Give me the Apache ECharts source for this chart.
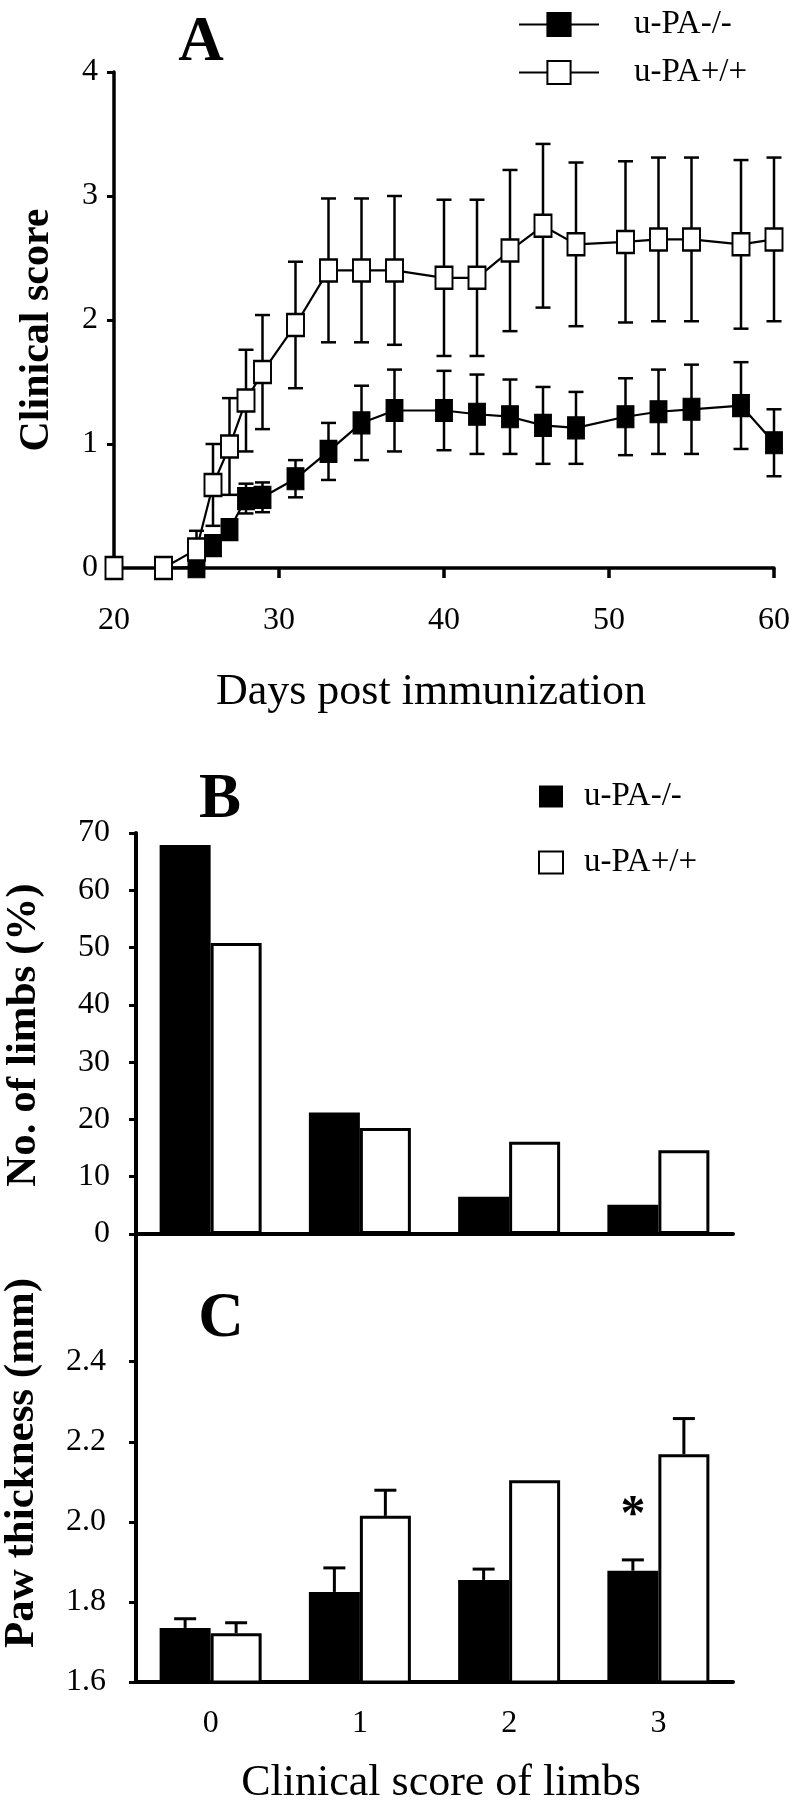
<!DOCTYPE html>
<html><head><meta charset="utf-8">
<script src="https://cdn.jsdelivr.net/npm/echarts/dist/echarts.min.js"></script>
<style>html,body{margin:0;padding:0;background:#fff}#c{width:797px;height:1800px}</style>
</head><body><div id="c"></div>
<script>
// Panel A: clinical score over time
const days = [20,23,25,26,27,28,29,31,33,35,37,40,42,44,46,48,51,53,55,58,60];
const koScore = [0,0,0.01,0.18,0.31,0.56,0.57,0.72,0.94,1.17,1.27,1.27,1.24,1.22,1.15,1.13,1.22,1.26,1.28,1.31,1.01];
const koErr   = [0,0,0,0,0,0.12,0.12,0.15,0.23,0.30,0.33,0.32,0.32,0.30,0.31,0.29,0.31,0.34,0.36,0.35,0.27];
const wtScore = [0,0,0.15,0.67,0.98,1.35,1.58,1.96,2.40,2.40,2.40,2.34,2.34,2.56,2.76,2.61,2.63,2.65,2.65,2.61,2.65];
const wtErr   = [0,0,0.15,0.33,0.39,0.41,0.46,0.51,0.58,0.58,0.60,0.63,0.63,0.65,0.66,0.66,0.65,0.66,0.66,0.68,0.66];
// Panel B: distribution of limb scores
const limbCategories = ['0','1','2','3'];
const koLimbPct = [67.9,21.2,6.5,5.1];
const wtLimbPct = [50.8,18.5,16.1,14.6];
// Panel C: paw thickness
const koPaw = [1.735,1.825,1.855,1.878];
const koPawErr = [0.023,0.06,0.027,0.027];
const wtPaw = [1.722,2.015,2.104,2.169];
const wtPawErr = [0.026,0.064,0,0.089];
const pawSignificant = [false,false,false,true];
const pawTicks = [1.6,1.8,2.0,2.2,2.4];

const FONT = '"Liberation Serif","Times New Roman",serif';
const BLACK = '#000';

function errDataA(means, errs){ return days.map((d,i)=>[d, means[i]-errs[i], means[i]+errs[i]]); }
function renderErrA(params, api){
  const x = api.value(0), lo = api.value(1), hi = api.value(2);
  if (!(hi - lo > 0)) return null;
  const a = api.coord([x, lo]), b = api.coord([x, hi]);
  const hw = 7.5, st = {stroke: BLACK, lineWidth: 2.5};
  return {type:'group', children:[
    {type:'line', shape:{x1:a[0],y1:a[1],x2:b[0],y2:b[1]}, style:st},
    {type:'line', shape:{x1:a[0]-hw,y1:a[1],x2:a[0]+hw,y2:a[1]}, style:st},
    {type:'line', shape:{x1:b[0]-hw,y1:b[1],x2:b[0]+hw,y2:b[1]}, style:st}
  ]};
}
function makeErrC(offset){
  return function(params, api){
    const c = api.value(0), m = api.value(1), e = api.value(2);
    if (!(e > 0)) return null;
    const a = api.coord([c, m]), b = api.coord([c, m + e]);
    const x = a[0] + offset, hw = 11, st = {stroke: BLACK, lineWidth: 3};
    return {type:'group', children:[
      {type:'line', shape:{x1:x,y1:a[1],x2:x,y2:b[1]}, style:st},
      {type:'line', shape:{x1:x-hw,y1:b[1],x2:x+hw,y2:b[1]}, style:st}
    ]};
  };
}

const axisLineStyle = w => ({show:true, lineStyle:{color:BLACK, width:w}});
const tickStyle = (len, w) => ({show:true, inside:false, length:len, lineStyle:{color:BLACK, width:w}});
const labelStyle = (m) => ({color:BLACK, fontFamily:FONT, fontSize:32, margin:m});

const chart = echarts.init(document.getElementById('c'), null, {renderer:'canvas'});
chart.setOption({
  animation:false,
  backgroundColor:'#fff',
  grid:[
    {left:114, top:72, width:660, height:496},
    {left:136, top:833, width:597, height:401},
    {left:136, top:1234, width:597, height:448}
  ],
  xAxis:[
    {gridIndex:0, type:'value', min:20, max:60, interval:10,
     axisLine:axisLineStyle(3.5), axisTick:tickStyle(10,3.5), axisLabel:labelStyle(37), splitLine:{show:false}},
    {gridIndex:1, type:'category', data:limbCategories,
     axisLine:axisLineStyle(4), axisTick:{show:false}, axisLabel:{show:false}},
    {gridIndex:2, type:'category', data:limbCategories,
     axisLine:axisLineStyle(4), axisTick:{show:false}, axisLabel:labelStyle(26)}
  ],
  yAxis:[
    {gridIndex:0, type:'value', min:0, max:4, interval:1,
     axisLine:axisLineStyle(3.5), axisTick:tickStyle(7,3), axisLabel:labelStyle(16), splitLine:{show:false}},
    {gridIndex:1, type:'value', min:0, max:70, interval:10,
     axisLine:axisLineStyle(4), axisTick:tickStyle(7,3), axisLabel:labelStyle(26), splitLine:{show:false}},
    {gridIndex:2, type:'value', min:1.6, max:2.719,
     axisLine:axisLineStyle(4),
     axisTick:Object.assign(tickStyle(7,3), {customValues:pawTicks}),
     axisLabel:Object.assign(labelStyle(30), {customValues:pawTicks, formatter:v=>Number(v).toFixed(1)}),
     splitLine:{show:false}}
  ],
  legend:[
    {data:['u-PA-/-','u-PA+/+'], orient:'vertical', left:513, top:3,
     itemWidth:80, itemHeight:29, itemGap:15, selectedMode:false,
     textStyle:{fontFamily:FONT, fontSize:33, color:BLACK, padding:[0,0,0,30]}},
    {data:['B u-PA-/-','B u-PA+/+'], orient:'vertical', left:533, top:775,
     itemWidth:24, itemHeight:22, itemGap:33, selectedMode:false, icon:'rect',
     formatter:n=>n.slice(2),
     textStyle:{fontFamily:FONT, fontSize:33, color:BLACK, padding:[0,0,0,16]}}
  ],
  series:[
    {type:'custom', xAxisIndex:0, yAxisIndex:0, renderItem:renderErrA,
     data:errDataA(koScore, koErr), encode:{x:0, y:[1,2]}, z:2, silent:true},
    {name:'u-PA-/-', type:'line', xAxisIndex:0, yAxisIndex:0,
     data:days.map((d,i)=>[d, koScore[i]]),
     symbol:'rect', symbolSize:[17,22], showSymbol:true,
     lineStyle:{color:BLACK, width:2.2}, itemStyle:{color:BLACK, borderColor:BLACK, borderWidth:1}, z:3},
    {type:'custom', xAxisIndex:0, yAxisIndex:0, renderItem:renderErrA,
     data:errDataA(wtScore, wtErr), encode:{x:0, y:[1,2]}, z:4, silent:true},
    {name:'u-PA+/+', type:'line', xAxisIndex:0, yAxisIndex:0,
     data:days.map((d,i)=>[d, wtScore[i]]),
     symbol:'rect', symbolSize:[17,22], showSymbol:true,
     lineStyle:{color:BLACK, width:2.2}, itemStyle:{color:'#fff', borderColor:BLACK, borderWidth:2.2}, z:5},

    {name:'B u-PA-/-', type:'bar', xAxisIndex:1, yAxisIndex:1, data:koLimbPct,
     barWidth:51, barGap:'0%', itemStyle:{color:BLACK, borderColor:BLACK, borderWidth:0}},
    {name:'B u-PA+/+', type:'bar', xAxisIndex:1, yAxisIndex:1, data:wtLimbPct,
     barWidth:51, barGap:'0%', itemStyle:{color:'#fff', borderColor:BLACK, borderWidth:3}},

    {name:'B u-PA-/-', type:'bar', xAxisIndex:2, yAxisIndex:2,
     data:koPaw.map((v,i)=> pawSignificant[i] ? {value:v, label:{show:true}} : v),
     barWidth:51, barGap:'0%', itemStyle:{color:BLACK},
     label:{show:false, position:'top', distance:30, formatter:'*', fontFamily:FONT, fontSize:50, fontWeight:'bold', color:BLACK}},
    {name:'B u-PA+/+', type:'bar', xAxisIndex:2, yAxisIndex:2, data:wtPaw,
     barWidth:51, barGap:'0%', itemStyle:{color:'#fff', borderColor:BLACK, borderWidth:3}},
    {type:'custom', xAxisIndex:2, yAxisIndex:2, renderItem:makeErrC(-25.5),
     data:limbCategories.map((c,i)=>[i, koPaw[i], koPawErr[i]]), encode:{x:0, y:1}, z:5, silent:true},
    {type:'custom', xAxisIndex:2, yAxisIndex:2, renderItem:makeErrC(25.5),
     data:limbCategories.map((c,i)=>[i, wtPaw[i], wtPawErr[i]]), encode:{x:0, y:1}, z:5, silent:true}
  ],
  graphic:{elements:[
    {type:'text', x:201, y:44, style:{text:'A', fontFamily:FONT, fontSize:63, fontWeight:'bold', fill:BLACK, align:'center', verticalAlign:'middle', textAlign:'center', textVerticalAlign:'middle'}},
    {type:'text', x:220, y:801, style:{text:'B', fontFamily:FONT, fontSize:63, fontWeight:'bold', fill:BLACK, align:'center', verticalAlign:'middle', textAlign:'center', textVerticalAlign:'middle'}},
    {type:'text', x:221, y:1320, style:{text:'C', fontFamily:FONT, fontSize:63, fontWeight:'bold', fill:BLACK, align:'center', verticalAlign:'middle', textAlign:'center', textVerticalAlign:'middle'}},
    {type:'text', x:37, y:330, rotation:Math.PI/2, style:{text:'Clinical score', fontFamily:FONT, fontSize:42, fontWeight:'bold', fill:BLACK, align:'center', verticalAlign:'middle', textAlign:'center', textVerticalAlign:'middle'}},
    {type:'text', x:431, y:692, style:{text:'Days post immunization', fontFamily:FONT, fontSize:44, fill:BLACK, align:'center', verticalAlign:'middle', textAlign:'center', textVerticalAlign:'middle'}},
    {type:'text', x:24, y:1035, rotation:Math.PI/2, style:{text:'No. of limbs (%)', fontFamily:FONT, fontSize:43, fontWeight:'bold', fill:BLACK, align:'center', verticalAlign:'middle', textAlign:'center', textVerticalAlign:'middle'}},
    {type:'text', x:22, y:1463, rotation:Math.PI/2, style:{text:'Paw thickness (mm)', fontFamily:FONT, fontSize:43, fontWeight:'bold', fill:BLACK, align:'center', verticalAlign:'middle', textAlign:'center', textVerticalAlign:'middle'}},
    {type:'text', x:441, y:1783, style:{text:'Clinical score of limbs', fontFamily:FONT, fontSize:44, fill:BLACK, align:'center', verticalAlign:'middle', textAlign:'center', textVerticalAlign:'middle'}}
  ]}
});
</script></body></html>
